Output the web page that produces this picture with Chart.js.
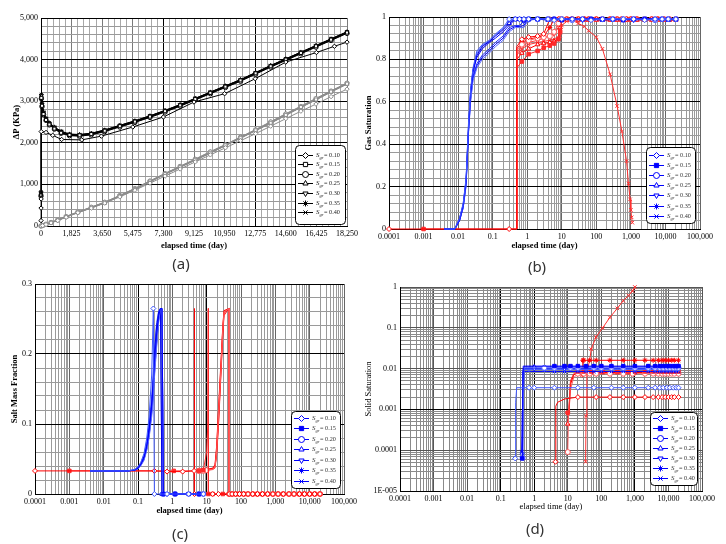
<!DOCTYPE html>
<html>
<head>
<meta charset="utf-8">
<script src="https://cdn.jsdelivr.net/npm/chart.js@4.4.1/dist/chart.umd.min.js"></script>
<style>
  html, body { margin: 0; padding: 0; background: #fff; }
  #page { position: relative; width: 726px; height: 544px; overflow: hidden; }
  canvas { position: absolute; }
  .tag { position: absolute; font: 15px "Noto Sans", sans-serif; color: #333; transform: translate(-50%, -50%); }
</style>
</head>
<body>
<div id="page">
  <canvas id="ca" width="363" height="272" style="left:0;top:0"></canvas>
  <canvas id="cb" width="363" height="272" style="left:363px;top:0"></canvas>
  <canvas id="cc" width="363" height="272" style="left:0;top:272px"></canvas>
  <canvas id="cd" width="363" height="272" style="left:363px;top:272px"></canvas>
  <div class="tag" style="left:181px;top:263px">(a)</div>
  <div class="tag" style="left:537px;top:266px">(b)</div>
  <div class="tag" style="left:180px;top:533px">(c)</div>
  <div class="tag" style="left:535px;top:528px">(d)</div>
</div>
<script>
// legend values
const SGR = ['0.10', '0.15', '0.20', '0.25', '0.30', '0.35', '0.40'];

// ---- (a) pressure difference, linear time ----
const aTime = [0, 20, 60, 150, 300, 500, 800, 1200, 1700, 2300, 3000, 3800, 4700, 5600, 6500, 7400, 8300, 9200, 10100, 11000, 11900, 12800, 13700, 14600, 15500, 16400, 17300, 18250];
const aTime10 = [0, 4, 8, 12, 300, 700, 1230, 2430, 3600, 5475, 7300, 9125, 10950, 12775, 14600, 16425, 17500, 18250];
const aBlk10 = [130, 430, 650, 2270, 2250, 2180, 2080, 2070, 2160, 2380, 2620, 2980, 3180, 3540, 3940, 4170, 4320, 4420];
const aBlk15 = [740, 3080, 2890, 2690, 2550, 2440, 2340, 2240, 2190, 2180, 2210, 2290, 2400, 2510, 2630, 2760, 2900, 3050, 3200, 3350, 3500, 3670, 3840, 4000, 4160, 4320, 4480, 4650];
const aBlk20 = [720, 3060, 2870, 2680, 2540, 2430, 2330, 2230, 2170, 2160, 2190, 2270, 2380, 2490, 2610, 2740, 2880, 3030, 3180, 3330, 3480, 3650, 3820, 3980, 4140, 4300, 4460, 4630];
const aBlk25 = [780, 3120, 2920, 2720, 2570, 2460, 2360, 2260, 2200, 2190, 2220, 2300, 2410, 2520, 2640, 2770, 2910, 3060, 3210, 3360, 3510, 3680, 3850, 4010, 4170, 4330, 4490, 4660];
const aBlk30 = [800, 3140, 2930, 2730, 2580, 2470, 2370, 2270, 2205, 2195, 2225, 2305, 2415, 2525, 2645, 2775, 2915, 3065, 3215, 3365, 3515, 3685, 3855, 4015, 4175, 4335, 4495, 4665];
const aBlk35 = [820, 3160, 2950, 2740, 2590, 2480, 2380, 2280, 2210, 2200, 2230, 2310, 2420, 2530, 2650, 2780, 2920, 3070, 3220, 3370, 3520, 3690, 3860, 4020, 4180, 4340, 4500, 4670];
const aBlk40 = [760, 3100, 2900, 2700, 2560, 2450, 2350, 2250, 2180, 2170, 2200, 2280, 2390, 2500, 2620, 2750, 2890, 3040, 3190, 3340, 3490, 3660, 3830, 3990, 4150, 4310, 4470, 4640];
const aGreyTime = [0, 100, 300, 600, 1000, 1500, 2200, 3000, 3800, 4700, 5600, 6500, 7400, 8300, 9200, 10100, 11000, 11900, 12800, 13700, 14600, 15500, 16400, 17300, 18250];
const aGry10 = [0, 8, 35, 75, 130, 210, 320, 430, 550, 700, 860, 1030, 1200, 1370, 1540, 1710, 1880, 2050, 2220, 2400, 2580, 2760, 2930, 3110, 3290];
const aGry15 = [0, 10, 40, 80, 140, 220, 330, 440, 560, 720, 890, 1070, 1250, 1420, 1590, 1760, 1940, 2120, 2300, 2480, 2670, 2860, 3040, 3230, 3420];
const aGry20 = [0, 12, 42, 85, 145, 225, 335, 450, 570, 730, 900, 1080, 1260, 1430, 1600, 1780, 1950, 2130, 2310, 2500, 2690, 2870, 3060, 3240, 3430];
const aGry25 = [0, 9, 38, 78, 135, 215, 325, 435, 555, 715, 880, 1060, 1240, 1410, 1580, 1750, 1930, 2110, 2290, 2470, 2660, 2850, 3030, 3220, 3410];
const aGry30 = [0, 11, 41, 82, 142, 222, 332, 445, 565, 725, 895, 1075, 1255, 1425, 1595, 1770, 1945, 2125, 2305, 2490, 2680, 2865, 3050, 3235, 3425];
const aGry35 = [0, 13, 44, 88, 150, 230, 340, 455, 575, 735, 905, 1085, 1265, 1440, 1610, 1790, 1960, 2140, 2320, 2510, 2700, 2880, 3070, 3250, 3440];
const aGry40 = [0, 10, 39, 79, 138, 218, 328, 438, 558, 718, 885, 1065, 1245, 1415, 1585, 1755, 1935, 2115, 2295, 2475, 2665, 2855, 3035, 3225, 3415];

// ---- (b) gas saturation ----
const bBlueTime = [0.004, 0.008, 0.011, 0.014, 0.017, 0.02, 0.023, 0.027, 0.035, 0.05, 0.08, 0.12, 0.2, 0.3, 0.45, 0.6, 0.8, 1.1, 2, 4, 6, 10, 20, 40, 70, 150, 300, 600, 1200, 2500, 5000, 8000, 12000, 20000];
const bBlue10 = [0, 0, 0.05, 0.12, 0.24, 0.50, 0.66, 0.76, 0.84, 0.87, 0.89, 0.92, 0.95, 0.99, 0.99, 0.99, 0.99, 0.99, 0.99, 0.99, 0.985, 0.99, 0.99, 0.99, 0.985, 0.99, 0.99, 0.99, 0.99, 0.985, 0.99, 0.99, 0.99, 0.99];
const bBlue15 = [0, 0, 0.04, 0.11, 0.22, 0.47, 0.64, 0.74, 0.81, 0.85, 0.88, 0.90, 0.93, 0.96, 0.99, 0.99, 0.985, 0.99, 0.99, 0.99, 0.99, 0.985, 0.99, 0.99, 0.99, 0.99, 0.99, 0.985, 0.99, 0.99, 0.99, 0.99, 0.99, 0.99];
const bBlue20 = [0, 0, 0.04, 0.10, 0.20, 0.45, 0.60, 0.70, 0.76, 0.80, 0.83, 0.86, 0.89, 0.93, 0.95, 0.95, 0.95, 0.99, 0.99, 0.99, 0.99, 0.99, 0.985, 0.99, 0.99, 0.99, 0.99, 0.99, 0.99, 0.99, 0.985, 0.99, 0.99, 0.99];
const bBlue25 = [0, 0, 0.05, 0.11, 0.23, 0.48, 0.65, 0.75, 0.82, 0.86, 0.885, 0.91, 0.94, 0.97, 0.99, 0.99, 0.99, 0.99, 0.99, 0.985, 0.99, 0.99, 0.99, 0.99, 0.99, 0.985, 0.99, 0.99, 0.99, 0.99, 0.99, 0.99, 0.985, 0.99];
const bBlue30 = [0, 0, 0.04, 0.10, 0.21, 0.46, 0.62, 0.72, 0.78, 0.82, 0.85, 0.88, 0.91, 0.95, 0.96, 0.96, 0.98, 0.99, 0.99, 0.99, 0.99, 0.99, 0.99, 0.985, 0.99, 0.99, 0.99, 0.99, 0.985, 0.99, 0.99, 0.99, 0.99, 0.99];
const bBlue35 = [0, 0, 0.05, 0.12, 0.23, 0.49, 0.65, 0.75, 0.83, 0.865, 0.885, 0.915, 0.945, 0.98, 0.99, 0.99, 0.99, 0.985, 0.99, 0.99, 0.99, 0.99, 0.99, 0.99, 0.985, 0.99, 0.99, 0.99, 0.99, 0.99, 0.985, 0.99, 0.99, 0.99];
const bBlue40 = [0, 0, 0.04, 0.10, 0.21, 0.46, 0.61, 0.71, 0.77, 0.81, 0.84, 0.87, 0.90, 0.94, 0.955, 0.955, 0.96, 0.99, 0.99, 0.99, 0.985, 0.99, 0.99, 0.99, 0.99, 0.99, 0.985, 0.99, 0.99, 0.99, 0.99, 0.99, 0.99, 0.985];
const bRedTime = [0.0001, 0.001, 0.3, 0.49, 0.5, 0.7, 1.1, 2, 3, 4.5, 6, 8, 9, 10, 14, 20, 30, 45, 60, 100, 150, 250, 400, 550, 750, 850, 950, 1000, 1050, 1100, 1500, 2500, 4000, 6000, 9000, 13000, 20000];
const bRed10 = [0, null, 0, 0, 0.86, 0.895, 0.905, 0.91, 0.92, 0.99, 0.99, 0.99, 0.99, 0.99, 0.99, 0.99, 0.99, 0.99, 0.99, 0.99, 0.99, 0.99, 0.99, 0.99, 0.99, null, null, 0.99, null, null, 0.99, 0.99, 0.99, 0.99, 0.99, 0.99, 0.99];
const bRed15 = [null, 0, null, 0, 0.76, 0.79, 0.825, 0.84, 0.855, 0.865, 0.875, 0.895, 0.93, 0.99, 0.99, 0.99, 0.99, 0.99, 0.99, 0.99, 0.99, 0.99, 0.99, 0.99, 0.99, null, null, 0.99, null, null, 0.99, 0.99, 0.99, 0.99, 0.99, 0.99, 0.99];
const bRed20 = [null, null, null, 0, 0.84, 0.87, 0.89, 0.90, 0.905, 0.91, 0.93, 0.97, 0.99, 0.99, 0.99, 0.99, 0.99, 0.99, 0.99, 0.99, 0.99, 0.99, 0.99, 0.99, 0.99, null, null, 0.99, null, null, 0.99, 0.99, 0.99, 0.99, 0.99, 0.99, 0.99];
const bRed25 = [null, null, null, 0, 0.80, 0.83, 0.85, 0.87, 0.875, 0.88, 0.885, 0.90, 0.95, 0.99, 0.985, 0.985, 0.985, 0.985, 0.985, 0.985, 0.985, 0.985, 0.985, 0.985, 0.985, null, null, 0.985, null, null, 0.985, 0.985, 0.985, 0.985, 0.985, 0.985, 0.985];
const bRed30 = [null, null, null, 0, 0.83, 0.86, 0.88, 0.89, 0.90, 0.91, 0.92, 0.95, 0.98, 0.99, 0.99, 0.99, 0.99, 0.99, 0.99, 0.99, 0.99, 0.99, 0.99, 0.99, 0.99, null, null, 0.99, null, null, 0.99, 0.99, 0.99, 0.99, 0.99, 0.99, 0.99];
const bRed35 = [null, null, null, 0, 0.85, 0.88, 0.895, 0.905, 0.91, 0.95, 0.99, 0.99, 0.99, 0.99, 0.99, 0.99, 0.99, 0.99, 0.99, 0.99, 0.99, 0.99, 0.99, 0.99, 0.99, null, null, 0.99, null, null, 0.99, 0.99, 0.99, 0.99, 0.99, 0.99, 0.99];
const bRed40 = [null, null, null, 0, 0.82, 0.85, 0.87, 0.88, 0.885, 0.89, 0.895, 0.90, 0.91, 0.96, 0.98, 0.985, 0.97, 0.955, 0.935, 0.905, 0.85, 0.73, 0.58, 0.46, 0.32, 0.215, 0.14, 0.09, 0.055, 0.03, null, null, null, null, null, null, null];

// ---- (c) salt mass fraction ----
const cBlueTime = [0.004, 0.02, 0.05, 0.08, 0.1, 0.12, 0.15, 0.18, 0.21, 0.25, 0.28, 0.3, 0.35, 0.4, 0.45, 0.5, 0.55, 0.7, 1.2, 3, 6, 8];
const cBlue10 = [0.033, 0.033, 0.033, 0.035, 0.039, 0.045, 0.058, 0.08, 0.11, 0.17, 0.265, 0, null, null, null, null, null, 0, null, 0, null, 0];
const cBlue15 = [0.033, 0.033, 0.033, 0.034, 0.037, 0.042, 0.052, 0.068, 0.09, 0.125, 0.16, 0.19, 0.23, 0.255, 0.265, 0.265, 0, null, 0, 0, 0, null];
const cBlue20 = [0.033, 0.033, 0.033, 0.034, 0.036, 0.04, 0.048, 0.062, 0.08, 0.11, 0.14, 0.165, 0.21, 0.245, 0.265, 0.265, 0, null, 0, null, 0, 0];
const cBlue25 = [0.033, 0.033, 0.033, 0.034, 0.038, 0.043, 0.054, 0.07, 0.095, 0.13, 0.165, 0.2, 0.24, 0.26, 0.265, 0, null, null, 0, null, 0, null];
const cBlue30 = [0.033, 0.033, 0.033, 0.034, 0.037, 0.041, 0.05, 0.065, 0.085, 0.12, 0.15, 0.18, 0.22, 0.25, 0.265, 0.265, 0, 0, null, 0, null, 0];
const cBlue35 = [0.033, 0.033, 0.033, 0.035, 0.038, 0.044, 0.056, 0.075, 0.1, 0.14, 0.18, 0.21, 0.245, 0.262, 0.265, 0, null, 0, null, null, 0, null];
const cBlue40 = [0.033, 0.033, 0.033, 0.034, 0.036, 0.041, 0.05, 0.064, 0.083, 0.115, 0.145, 0.17, 0.215, 0.248, 0.265, 0.265, 0, null, 0, 0, null, 0];
const cRedTime = [0.0001, 0.001, 0.3, 0.7, 1.1, 2, 4.3, 4.4, 4.41, 6, 8, 10, 10.8, 11.2, 11.21, 15, 17.5, 19.5, 22, 25.5, 29.5, 32, 45, 45.1, 55, 70, 90, 120, 160, 220, 300, 420, 600, 850, 1200, 1700, 2500, 3500, 5000, 7000, 10000, 14000, 20000];
const cRed10 = [0.033, null, 0.033, 0.032, null, 0.032, 0.033, 0.265, 0, null, 0, null, null, null, null, 0, null, null, 0, null, null, null, null, 0, 0, 0, 0, 0, 0, 0, 0, 0, 0, 0, 0, 0, 0, 0, 0, 0, 0, 0, 0];
const cRed15 = [null, 0.033, null, null, 0.033, null, null, null, null, 0.033, 0.034, 0.06, 0.1, 0.265, 0, 0, null, null, null, null, 0, null, null, 0, 0, 0, 0, 0, 0, 0, 0, 0, 0, 0, 0, 0, 0, 0, 0, 0, 0, 0, 0];
const cRed20 = [null, null, null, null, null, null, null, null, null, 0.033, 0.033, 0.034, null, null, null, 0.035, 0.038, 0.06, 0.11, 0.17, 0.235, 0.26, 0.265, 0, 0, 0, 0, 0, 0, 0, 0, 0, 0, 0, 0, 0, 0, 0, 0, 0, 0, 0, 0];
const cRed25 = [null, null, null, null, null, null, null, null, null, 0.033, 0.034, 0.035, null, null, null, 0.037, 0.042, 0.068, 0.12, 0.18, 0.24, 0.262, 0.265, 0, 0, 0, 0, 0, 0, 0, 0, 0, 0, 0, 0, 0, 0, 0, 0, 0, 0, 0, 0];
const cRed30 = [null, null, null, null, null, null, null, null, null, 0.033, 0.033, 0.034, null, null, null, 0.036, 0.04, 0.064, 0.115, 0.175, 0.238, 0.261, 0.265, 0, 0, 0, 0, 0, 0, 0, 0, 0, 0, 0, 0, 0, 0, 0, 0, 0, 0, 0, 0];
const cRed35 = [null, null, null, null, null, null, null, null, null, 0.034, 0.034, 0.035, null, null, null, 0.036, 0.039, 0.058, 0.1, 0.165, 0.23, 0.258, 0.265, 0, 0, 0, 0, 0, 0, 0, 0, 0, 0, 0, 0, 0, 0, 0, 0, 0, 0, 0, 0];
const cRed40 = [null, null, null, null, null, null, null, null, null, 0.032, 0.033, 0.034, null, null, null, 0.035, 0.037, 0.055, 0.095, 0.16, 0.225, 0.255, 0.265, 0, 0, 0, 0, 0, 0, 0, 0, 0, 0, 0, 0, 0, 0, 0, 0, 0, 0, 0, 0];

// ---- (d) solid saturation ----
const dBlueTime = [0.27, 0.28, 0.3, 0.42, 0.44, 0.45, 0.47, 0.5, 0.7, 1, 2, 4, 8, 12, 20, 35, 60, 100, 200, 450, 1000, 2500, 4000, 5500, 7000, 9000, 11000, 14000, 17000, 20000];
const dBlue10 = [6.3e-5, 0.0015, 0.0034, null, null, null, null, null, 0.0034, 0.0034, null, 0.0034, null, null, 0.0034, null, 0.0034, null, 0.0034, 0.0034, 0.0034, 0.0034, 0.0034, 0.0034, 0.0034, 0.0034, 0.0034, 0.0034, 0.0034, 0.0034];
const dBlue15 = [null, null, null, null, 6.3e-5, 0.0011, 0.0115, null, null, null, null, 0.0115, 0.0115, 0.0115, 0.0115, 0.0115, 0.0115, 0.0115, 0.0115, 0.0115, 0.0115, 0.0115, 0.0115, 0.0115, 0.0115, 0.0115, 0.0115, 0.0115, 0.0115, 0.0115];
const dBlue20 = [null, null, null, null, null, 6.5e-5, 0.0012, 0.0105, null, null, 0.0105, 0.0105, null, 0.0105, 0.0105, null, 0.0105, 0.0105, 0.0105, 0.0105, 0.0105, 0.0105, 0.0105, 0.0105, 0.0105, 0.0105, 0.0105, 0.0105, 0.0105, 0.0105];
const dBlue25 = [null, null, null, null, null, 6.5e-5, 0.0012, 0.011, null, 0.011, null, 0.011, 0.011, null, 0.011, 0.011, 0.011, null, 0.011, 0.011, 0.011, 0.011, 0.011, 0.011, 0.011, 0.011, 0.011, 0.011, 0.011, 0.011];
const dBlue30 = [null, null, null, null, 8e-5, 0.001, 0.01, null, null, 0.01, 0.01, null, 0.01, 0.01, 0.01, null, 0.01, 0.01, 0.01, 0.01, 0.01, 0.01, 0.01, 0.01, 0.01, 0.01, 0.01, 0.01, 0.01, 0.01];
const dBlue35 = [null, null, null, null, 7e-5, 0.001, 0.0095, null, 0.0095, null, 0.0095, 0.0095, 0.0095, null, 0.0095, 0.0095, null, 0.0095, 0.0095, 0.0095, 0.0095, 0.0095, 0.0095, 0.0095, 0.0095, 0.0095, 0.0095, 0.0095, 0.0095, 0.0095];
const dBlue40 = [null, null, null, 9e-5, 0.0009, 0.0085, null, null, null, null, null, 0.0085, 0.0085, null, 0.0085, 0.0085, 0.0085, 0.0085, 0.0085, 0.0085, 0.0085, 0.0085, 0.0085, 0.0085, 0.0085, 0.0085, 0.0085, 0.0085, 0.0085, 0.0085];
const dRedTime = [4.3, 4.4, 5, 8, 10, 10.5, 11, 12, 15, 20, 27, 28, 30, 34, 35, 37, 45, 50, 70, 110, 180, 300, 450, 650, 850, 1000, 2000, 3500, 5000, 6500, 8000, 10000, 12500, 15000, 20000];
const dRed10 = [5.2e-5, 0.0012, 0.0015, 0.0018, null, null, null, null, null, 0.002, null, null, null, null, null, null, null, null, 0.002, null, 0.002, null, 0.002, null, null, 0.002, 0.002, 0.002, 0.002, 0.002, 0.002, 0.002, 0.002, 0.002, 0.002];
const dRed15 = [null, null, null, null, 0.00083, null, 0.0009, 0.005, 0.0075, 0.0085, null, null, 0.0085, null, null, null, null, 0.0085, null, 0.0085, null, 0.0085, null, 0.0085, null, 0.0085, 0.0085, 0.0085, 0.0085, 0.0085, 0.0085, 0.0085, 0.0085, 0.0085, 0.0085];
const dRed20 = [null, null, null, null, 9e-5, 0.0008, null, 0.003, 0.006, 0.0075, null, null, 0.0075, null, null, null, 0.0075, null, 0.0075, null, 0.0075, null, 0.0075, null, 0.0075, null, 0.0075, 0.0075, 0.0075, 0.0075, 0.0075, 0.0075, 0.0075, 0.0075, 0.0075];
const dRed25 = [null, null, null, null, 0.00044, 0.0008, null, 0.004, 0.007, 0.008, null, null, null, 0.008, null, null, null, 0.008, null, 0.008, null, 0.008, null, 0.008, null, 0.008, 0.008, 0.008, 0.008, 0.008, 0.008, 0.008, 0.008, 0.008, 0.008];
const dRed30 = [null, null, null, null, 0.0008, null, 0.00085, 0.0045, 0.007, 0.0078, null, null, 0.0078, null, null, null, null, 0.0078, 0.0078, null, 0.0078, null, 0.0078, null, 0.0078, 0.0078, 0.0078, 0.0078, 0.0078, 0.0078, 0.0078, 0.0078, 0.0078, 0.0078, 0.0078];
const dRed35 = [null, null, null, null, null, null, null, null, null, null, 0.007, 0.016, 0.016, null, null, null, 0.016, null, 0.016, null, 0.016, null, 0.016, null, null, 0.016, 0.016, 0.016, 0.016, 0.016, 0.016, 0.016, 0.016, 0.016, 0.016];
const dRed40 = [null, null, null, null, null, null, null, null, null, null, null, null, null, 5.2e-5, 0.0007, 0.008, 0.016, 0.03, 0.06, 0.1, 0.18, 0.3, 0.46, 0.62, 0.8, 1.0, null, null, null, null, null, null, null, null, null];

// ---- styling ----
const SERIF = '"Liberation Serif", "DejaVu Serif", serif';
const STYLES = ['rectRot', 'rect', 'circle', 'triangle', 'triangle', 'star', 'crossRot'];
const ROT = [0, 0, 0, 0, 180, 0, 0];
const FILLED = [false, true, false, false, false, true, true];
const HOLLOW = [false, false, false, false, false, true, true];
const BLUES = ['#3f57ff', '#0000ff', '#5c6dff', '#0000e6', '#1a2bff', '#4d62ff', '#0000ff'];
const REDS = ['#ff0000', '#ff2a2a', '#ff6060', '#ff0000', '#ff4040', '#ff0000', '#ff3030'];

function makeSet(xs, ys, i, color, show, fills, radius) {
  const data = [];
  xs.forEach((x, k) => {
    if (ys[k] !== null && ys[k] !== undefined) data.push({ x: x, y: ys[k] });
  });
  const r = radius || 2.5;
  const f = fills || FILLED;
  return {
    label: 'Sgr = ' + SGR[i],
    data: data,
    borderColor: color,
    backgroundColor: color,
    borderWidth: 1,
    tension: 0,
    pointStyle: STYLES[i],
    pointRotation: ROT[i],
    pointRadius: show ? (c => (c.raw && show(c.raw) ? r : 0)) : r,
    pointBorderWidth: 1,
    pointBorderColor: color,
    pointBackgroundColor: f[i] ? color : '#fff',
    clip: 6
  };
}

function linearTicks(min, max, minor, major) {
  const t = [];
  const n = Math.round((max - min) / minor);
  for (let k = 0; k <= n; k++) {
    const v = +(min + k * minor).toFixed(6);
    t.push({ value: v, major: Math.abs(v / major - Math.round(v / major)) < 1e-6 });
  }
  return t;
}

function logTicks(e0, e1) {
  const t = [];
  for (let e = e0; e < e1; e++) {
    for (let m = 1; m <= 9; m++) t.push({ value: +(m * Math.pow(10, e)).toPrecision(6), major: m === 1 });
  }
  t.push({ value: Math.pow(10, e1), major: true });
  return t;
}

const fmtComma = v => Math.round(v).toLocaleString('en-US');
const fmtPlain = v => String(v);
const fmtLog = v => {
  const e = Math.round(Math.log10(v));
  return e < 0 ? v.toFixed(-e) : Math.round(v).toLocaleString('en-US');
};
const fmtLogSci = v => (Math.round(Math.log10(v)) === -5 ? '1E-005' : fmtLog(v));

function makeAxis(cfg) {
  const isX = cfg.pos === 'x';
  return {
    type: cfg.log ? 'logarithmic' : 'linear',
    position: isX ? 'bottom' : 'left',
    min: cfg.min,
    max: cfg.max,
    afterBuildTicks: s => { s.ticks = cfg.ticks(); },
    afterFit: s => { if (isX) s.height = cfg.size; else s.width = cfg.size; },
    border: { display: true, color: '#000', width: 1 },
    grid: {
      drawTicks: false,
      lineWidth: 1,
      color: c => {
        if (!c.tick) return cfg.minor;
        const v = c.tick.value;
        if (cfg.dark && cfg.dark.some(d => Math.abs(v - d) <= d * 1e-6)) return '#000';
        return c.tick.major ? cfg.major : cfg.minor;
      }
    },
    ticks: {
      autoSkip: false,
      maxRotation: 0,
      minRotation: 0,
      padding: 3,
      color: '#000',
      font: { family: SERIF, size: 8 },
      callback: (v, i, t) => (t[i] && t[i].major ? cfg.fmt(v) : '')
    },
    title: {
      display: true,
      text: cfg.title,
      color: '#000',
      padding: 0,
      font: { family: SERIF, size: 8.5, weight: cfg.bold ? 'bold' : 'normal' }
    }
  };
}

// boxed legend drawn inside the plot, with subscripted labels
const boxLegend = {
  id: 'boxLegend',
  afterDraw(chart, args, o) {
    if (!o || !o.box) return;
    const ctx = chart.ctx;
    const [bx, by, bw, bh] = o.box;
    const fills = o.fills || FILLED;
    ctx.save();
    ctx.beginPath();
    ctx.roundRect(bx + 0.5, by + 0.5, bw, bh, 4);
    ctx.fillStyle = '#fff';
    ctx.fill();
    ctx.strokeStyle = '#000';
    ctx.lineWidth = 1;
    ctx.stroke();
    for (let i = 0; i < 7; i++) {
      const cy = Math.round(by + o.first + i * o.step) + 0.5;
      ctx.strokeStyle = o.color;
      ctx.lineWidth = 1;
      ctx.beginPath();
      ctx.moveTo(bx + 3, cy);
      ctx.lineTo(bx + 18, cy);
      ctx.stroke();
      ctx.fillStyle = fills[i] ? o.color : '#fff';
      Chart.helpers.drawPoint(ctx, { pointStyle: STYLES[i], rotation: ROT[i], radius: 3, borderWidth: 1 }, bx + 10.5, cy);
      let tx = bx + 21;
      ctx.fillStyle = o.text;
      ctx.textBaseline = 'middle';
      ctx.font = 'italic 7px ' + SERIF;
      ctx.fillText('S', tx, cy);
      tx += ctx.measureText('S').width;
      ctx.font = 'italic 4.5px ' + SERIF;
      ctx.fillText('gr', tx, cy + 2);
      tx += ctx.measureText('gr').width + 0.5;
      ctx.font = '6.2px ' + SERIF;
      ctx.fillText('= ' + SGR[i], tx, cy);
    }
    ctx.restore();
  }
};

function makeChart(id, datasets, x, y, padding, legend) {
  return new Chart(document.getElementById(id), {
    type: 'line',
    data: { datasets: datasets },
    options: {
      animation: false,
      responsive: false,
      devicePixelRatio: 1,
      layout: { padding: padding },
      plugins: { legend: { display: false }, tooltip: { enabled: false }, boxLegend: legend },
      scales: { x: x, y: y }
    },
    plugins: [boxLegend]
  });
}

// (a)
const aBlack = [aBlk15, aBlk20, aBlk25, aBlk30, aBlk35, aBlk40];
const aGrey = [aGry10, aGry15, aGry20, aGry25, aGry30, aGry35, aGry40];
const aSets = [];
aGrey.forEach((ys, i) => aSets.push(makeSet(aGreyTime, ys, i, '#8c8c8c', null, HOLLOW, 2.2)));
aSets.push(makeSet(aTime10, aBlk10, 0, '#000', null, HOLLOW, 2.2));
aBlack.forEach((ys, i) => aSets.push(makeSet(aTime, ys, i + 1, '#000', null, HOLLOW, 2.2)));
makeChart('ca', aSets,
  makeAxis({ pos: 'x', min: 0, max: 18250, ticks: () => linearTicks(0, 18250, 365, 1825), fmt: fmtComma, size: 25,
    title: 'elapsed time (day)', bold: true, major: '#7a7a7a', minor: '#a8a8a8', dark: [7300, 12775] }),
  makeAxis({ pos: 'y', min: 0, max: 5000, ticks: () => linearTicks(0, 5000, 200, 1000), fmt: fmtComma, size: 29,
    title: '\u0394P (KPa)', bold: true, major: '#000', minor: '#9a9a9a' }),
  { left: 12, top: 18, right: 16, bottom: 21 },
  { box: [295, 145, 50, 79], first: 9.5, step: 9.6, color: '#000', text: '#222', fills: HOLLOW });

// (b)
const bShowBlue = p => p.y >= 0.97;
const bShowRed = p => !(p.x > 0.45 && p.x < 0.6);
const bSets = [];
[bBlue10, bBlue15, bBlue20, bBlue25, bBlue30, bBlue35, bBlue40].forEach((ys, i) => bSets.push(makeSet(bBlueTime, ys, i, BLUES[i], bShowBlue)));
[bRed10, bRed15, bRed20, bRed25, bRed30, bRed35, bRed40].forEach((ys, i) => bSets.push(makeSet(bRedTime, ys, i, REDS[i], bShowRed)));
makeChart('cb', bSets,
  makeAxis({ pos: 'x', log: true, min: 1e-4, max: 1e5, ticks: () => logTicks(-4, 5), fmt: fmtLog, size: 22,
    title: 'elapsed time (day)', bold: true, major: '#666', minor: '#9a9a9a' }),
  makeAxis({ pos: 'y', min: 0, max: 1, ticks: () => linearTicks(0, 1, 0.04, 0.2), fmt: fmtPlain, size: 25,
    title: 'Gas Saturation', bold: true, major: '#000', minor: '#9a9a9a' }),
  { left: 1, top: 17, right: 26, bottom: 21 },
  { box: [283, 147, 49, 76], first: 7.5, step: 10.2, color: '#0000ff', text: '#333' });

// (c)
const cShowBlue = p => p.y === 0 || (p.y > 0.26 && p.x < 0.29);
const cShowRed = p => p.y <= 0.034;
const cSets = [];
[cBlue10, cBlue15, cBlue20, cBlue25, cBlue30, cBlue35, cBlue40].forEach((ys, i) => cSets.push(makeSet(cBlueTime, ys, i, BLUES[i], cShowBlue)));
[cRed10, cRed15, cRed20, cRed25, cRed30, cRed35, cRed40].forEach((ys, i) => cSets.push(makeSet(cRedTime, ys, i, REDS[i], cShowRed)));
makeChart('cc', cSets,
  makeAxis({ pos: 'x', log: true, min: 1e-4, max: 1e5, ticks: () => logTicks(-4, 5), fmt: fmtLog, size: 22,
    title: 'elapsed time (day)', bold: true, major: '#666', minor: '#9a9a9a', dark: [0.1, 10] }),
  makeAxis({ pos: 'y', min: 0, max: 0.3, ticks: () => linearTicks(0, 0.3, 0.02, 0.1), fmt: fmtPlain, size: 25,
    title: 'Salt Mass Fraction', bold: true, major: '#000', minor: '#9a9a9a' }),
  { left: 10, top: 12, right: 19, bottom: 28 },
  { box: [291, 139, 49, 77], first: 6.5, step: 10.5, color: '#0000ff', text: '#333' });

// (d)
const dShowBlue = p => !(p.x < 0.6 && p.y > 1e-4);
const dShowRed = p => p.x === 10 || p.y <= 1e-4 || p.x >= 19;
const dSets = [];
[dBlue10, dBlue15, dBlue20, dBlue25, dBlue30, dBlue35, dBlue40].forEach((ys, i) => dSets.push(makeSet(dBlueTime, ys, i, BLUES[i], dShowBlue)));
[dRed10, dRed15, dRed20, dRed25, dRed30, dRed35, dRed40].forEach((ys, i) => dSets.push(makeSet(dRedTime, ys, i, REDS[i], dShowRed)));
makeChart('cd', dSets,
  makeAxis({ pos: 'x', log: true, min: 1e-4, max: 1e5, ticks: () => logTicks(-4, 5), fmt: fmtLog, size: 21,
    title: 'elapsed time (day)', bold: false, major: '#555', minor: '#8a8a8a', dark: [0.1, 1, 1000] }),
  makeAxis({ pos: 'y', log: true, min: 1e-5, max: 1, ticks: () => logTicks(-5, 0), fmt: fmtLogSci, size: 36,
    title: 'Solid Saturation', bold: false, major: '#555', minor: '#8a8a8a', dark: [0.001] }),
  { left: 1, top: 15, right: 24, bottom: 32 },
  { box: [287, 140, 47, 73], first: 5.5, step: 10.1, color: '#0000ff', text: '#333' });
</script>
</body>
</html>
